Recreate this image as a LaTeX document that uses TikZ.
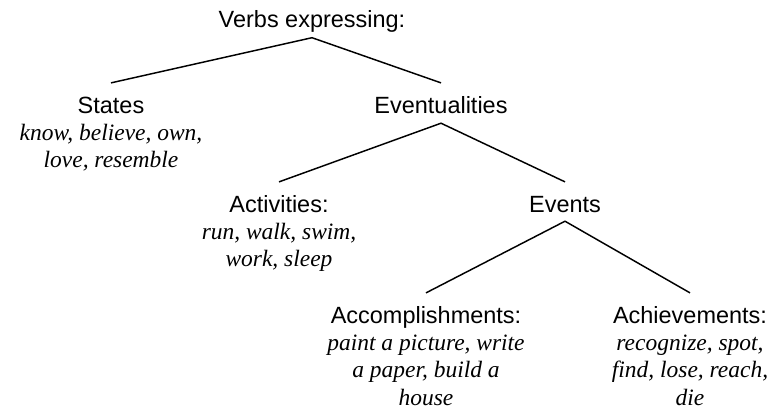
\documentclass[tikz,border=0pt]{standalone}
\usepackage{fontspec}
\setmainfont{Liberation Serif}
\setsansfont{Liberation Sans}
\usetikzlibrary{calc}
\tikzset{
  concept/.style={anchor=base, inner sep=0pt, outer sep=0pt,
    font=\fontsize{17.6}{20.5}\selectfont, text=black},
  branch/.style={line width=1.1pt, draw=black},
}
\newcommand{\ttl}[1]{{\sffamily #1}}
\newcommand{\exs}[1]{{\rmfamily\itshape #1}}
\begin{document}
\begin{tikzpicture}[x=0.75pt, y=-0.75pt]
\useasboundingbox (0,0) rectangle (773,412);
\node[concept] (verbs) at (312,27) {\begin{tabular}[t]{@{}c@{}}\ttl{Verbs expressing:}\end{tabular}};
\node[concept] (states) at (111,113) {\begin{tabular}[t]{@{}c@{}}\ttl{States}\\ \exs{know, believe, own,}\\ \exs{love, resemble}\end{tabular}};
\node[concept] (eventualities) at (441,113) {\begin{tabular}[t]{@{}c@{}}\ttl{Eventualities}\end{tabular}};
\node[concept] (activities) at (279,212) {\begin{tabular}[t]{@{}c@{}}\ttl{Activities:}\\ \exs{run, walk, swim,}\\ \exs{work, sleep}\end{tabular}};
\node[concept] (events) at (565,212) {\begin{tabular}[t]{@{}c@{}}\ttl{Events}\end{tabular}};
\node[concept] (accomp) at (426,323) {\begin{tabular}[t]{@{}c@{}}\ttl{Accomplishments:}\\ \exs{paint a picture, write}\\ \exs{a paper, build a}\\ \exs{house}\end{tabular}};
\node[concept] (achieve) at (690,323) {\begin{tabular}[t]{@{}c@{}}\ttl{Achievements:}\\ \exs{recognize, spot,}\\ \exs{find, lose, reach,}\\ \exs{die}\end{tabular}};
\draw[branch] ($(states.north)+(0,-11)$) -- ($(verbs.south)+(0,2.5)$) -- ($(eventualities.north)+(0,-11)$);
\draw[branch] ($(activities.north)+(0,-11)$) -- ($(eventualities.south)+(0,2)$) -- ($(events.north)+(0,-11)$);
\draw[branch] ($(accomp.north)+(0,-11)$) -- ($(events.south)+(0,1)$) -- ($(achieve.north)+(0,-11)$);
\end{tikzpicture}
\end{document}
